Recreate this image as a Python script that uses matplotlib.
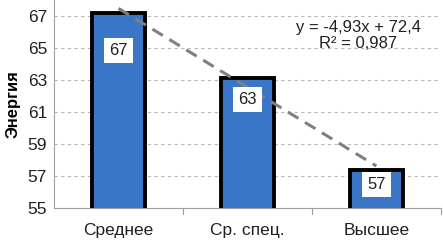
import matplotlib
matplotlib.use("Agg")
import matplotlib.pyplot as plt
import numpy as np

categories = ["Среднее", "Ср. спец.", "Высшее"]
values = [67.2, 63.1, 57.35]
labels = ["67", "63", "57"]
label_y = [64.85, 61.8, 56.5]
equation = "y = -4,93x + 72,4"
r2_text = "R² = 0,987"

plt.rcParams['font.family'] = ['Liberation Sans', 'DejaVu Sans']

fig = plt.figure(figsize=(4.43, 2.43), dpi=100)
ax = fig.add_axes([0.122, 0.144, 0.873, 0.856])

x = np.arange(1, len(categories) + 1)
ax.bar(x, values, width=0.41, bottom=0, color="#3A76C6", edgecolor="black",
       linewidth=2.8, zorder=3)

coef = np.polyfit(x, values, 1)
ax.plot(x, np.polyval(coef, x), color="#808080", linestyle=(0, (4, 2.5)),
        linewidth=2.2, zorder=4)

for xi, ly, lab in zip(x, label_y, labels):
    ax.text(xi, ly, lab, ha="center", va="center", fontsize=12, zorder=5,
            color="#202020",
            bbox=dict(boxstyle="square,pad=0.3", fc="white", ec="none"))

ax.set_xlim(0.5, 3.5)
ax.set_ylim(55, 68)
ax.set_yticks(range(55, 68, 2))
ax.tick_params(axis="y", length=0, labelsize=12.5, pad=5, labelcolor="#202020")
ax.set_xticks(x)
ax.set_xticklabels(categories, fontsize=12.5, color="#202020")
ax.tick_params(axis="x", length=0, pad=11)
for b in [1.5, 2.5, 3.5]:
    ax.plot([b, b], [55, 54.6], color="#a0a0a0", lw=0.8, clip_on=False)

for yv in range(57, 68, 2):
    ax.axhline(yv, color="#b8b8b8", linestyle=(0, (3, 3)), linewidth=0.8, zorder=1)

for s in ["top", "right"]:
    ax.spines[s].set_visible(False)
ax.spines["left"].set_color("#a0a0a0")
ax.spines["bottom"].set_color("#a0a0a0")
ax.spines["left"].set_linewidth(0.8)
ax.spines["bottom"].set_linewidth(0.8)

ax.set_ylabel("Энергия", fontsize=12, fontweight="bold", labelpad=5)

ax.text(2.86, 65.8, equation + "\n" + r2_text, ha="center", va="center",
        fontsize=12, linespacing=1.05, color="#202020")

fig.savefig("out.png", dpi=100)
